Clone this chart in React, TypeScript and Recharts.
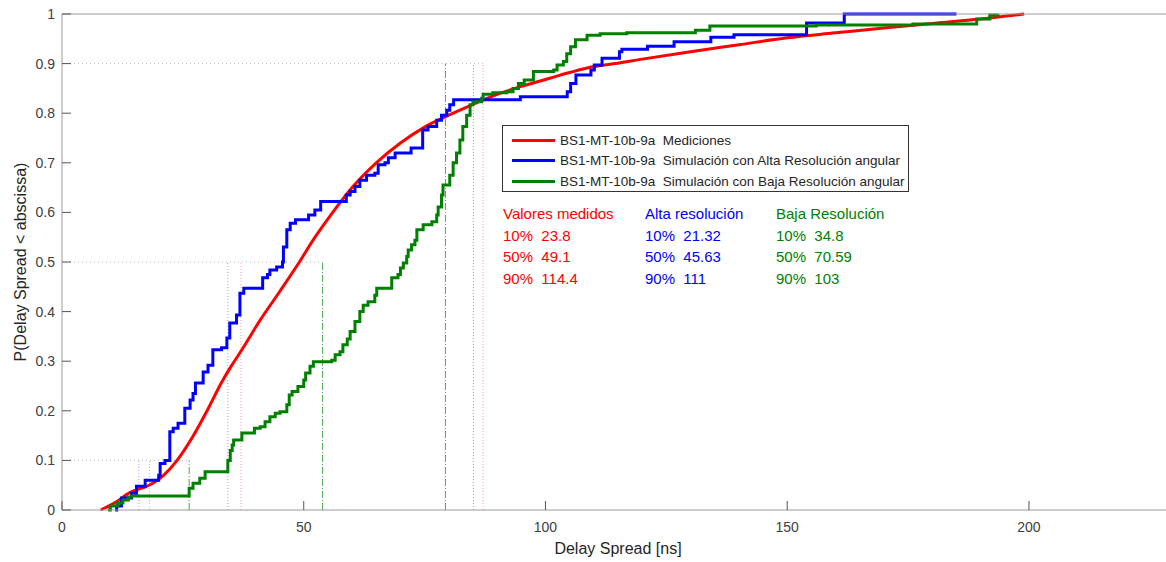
import { LineChart, Line, XAxis, YAxis, ReferenceLine, Legend } from "recharts";

// delay spread [ns] vs cumulative probability
const MEASURED: [number, number][] = [
  [8, 0], [11, 0.015], [14, 0.035], [18, 0.05], [21, 0.07], [23.8, 0.1],
  [27, 0.147], [30, 0.2], [33, 0.257], [35, 0.29], [37, 0.32], [41, 0.383],
  [45, 0.44], [49.1, 0.5], [52, 0.545], [56, 0.6], [60, 0.65], [65, 0.7],
  [70, 0.74], [75, 0.772], [80, 0.796], [85, 0.818], [90, 0.838], [95, 0.854],
  [100, 0.868], [105, 0.882], [110, 0.894], [114.4, 0.9], [120, 0.909],
  [130, 0.924], [140, 0.938], [150, 0.952], [160, 0.962], [170, 0.972],
  [180, 0.981], [190, 0.99], [199, 1],
];

const HIGH_RES: [number, number][] = [
  [11, 0], [11.3, 0.008], [12.3, 0.024], [14.4, 0.034], [15.4, 0.048],
  [17.2, 0.06], [20, 0.07], [20.3, 0.094], [21.3, 0.1], [22.3, 0.158],
  [23, 0.165], [24, 0.175], [25.4, 0.205], [26.5, 0.222], [27.1, 0.235],
  [27.6, 0.256], [29.2, 0.278], [30.2, 0.292], [31.2, 0.323], [33, 0.327],
  [34.1, 0.347], [34.7, 0.377], [36.1, 0.393], [36.8, 0.437], [37.6, 0.447],
  [41.5, 0.468], [42.5, 0.475], [43, 0.484], [44.4, 0.49], [45.6, 0.5],
  [45.8, 0.53], [46.5, 0.565], [47.2, 0.578], [48.3, 0.585], [51, 0.595],
  [52.3, 0.605], [53.5, 0.622], [58.8, 0.635], [59.6, 0.642], [60.6, 0.652],
  [61.6, 0.665], [63, 0.675], [64.7, 0.679], [65.4, 0.696], [66.8, 0.7],
  [67.5, 0.71], [68.9, 0.72], [72.2, 0.73], [74.6, 0.766], [75.7, 0.773],
  [77.5, 0.786], [78.5, 0.796], [79.6, 0.806], [80.2, 0.817], [81, 0.827],
  [94.8, 0.833], [104.5, 0.843], [105.2, 0.86], [106.3, 0.877], [109.4, 0.887],
  [110.1, 0.897], [111.7, 0.911], [115.3, 0.924], [115.8, 0.929], [121.1, 0.935],
  [126.6, 0.944], [134.2, 0.953], [139, 0.958], [154, 0.982], [161.8, 1],
  [185, 1],
];

const LOW_RES: [number, number][] = [
  [9.5, 0], [10, 0.008], [11.5, 0.014], [12.6, 0.02], [13.7, 0.026],
  [14.4, 0.028], [26.3, 0.044], [27.1, 0.054], [28.5, 0.064], [29.6, 0.077],
  [34.3, 0.1], [34.8, 0.12], [35.2, 0.131], [35.5, 0.141], [37.2, 0.155],
  [39.8, 0.165], [41, 0.168], [42, 0.178], [43, 0.188], [44.1, 0.195],
  [45.1, 0.198], [46.5, 0.212], [47, 0.232], [47.6, 0.239], [48.8, 0.249],
  [50, 0.262], [50.4, 0.276], [51.3, 0.29], [52, 0.299], [55.8, 0.302],
  [56.5, 0.313], [57.5, 0.319], [58.1, 0.333], [59, 0.345], [59.6, 0.36],
  [60.6, 0.38], [61.6, 0.4], [62.3, 0.413], [63.3, 0.42], [64.7, 0.433],
  [65.1, 0.447], [68.2, 0.468], [69.5, 0.475], [70, 0.488], [70.6, 0.498],
  [71.3, 0.511], [71.6, 0.524], [72.3, 0.535], [73, 0.544], [73.4, 0.565],
  [74.7, 0.575], [76.5, 0.581], [77.5, 0.595], [77.8, 0.611], [78.5, 0.635],
  [78.8, 0.655], [80.2, 0.675], [80.9, 0.7], [81.6, 0.72], [82.3, 0.746],
  [82.9, 0.773], [83.7, 0.796], [84.4, 0.817], [85, 0.823], [86.8, 0.83],
  [87.1, 0.838], [89.1, 0.841], [92, 0.843], [93.3, 0.85], [94.4, 0.86],
  [95.6, 0.867], [97.5, 0.884], [101.7, 0.887], [102.4, 0.897], [103.7, 0.904],
  [104.4, 0.92], [105.2, 0.934], [106.2, 0.948], [108.6, 0.957], [111.3, 0.96],
  [116.8, 0.962], [131, 0.967], [134, 0.976], [156, 0.978], [176, 0.98],
  [189.2, 0.99], [191.9, 0.998], [193.6, 1],
];

// percentile marker lines
const LEVELS = [0.1, 0.5, 0.9];
const RED_MARKS = [18.1, 37.0, 87.1];
const BLUE_MARKS = [15.9, 34.3, 85.1];
const GREEN_MARKS = [26.3, 53.9, 79.3];

const X_TICKS = [0, 50, 100, 150, 200];
const Y_TICKS = [0, 0.1, 0.2, 0.3, 0.4, 0.5, 0.6, 0.7, 0.8, 0.9, 1];

const STAT_ROWS = ["10%", "50%", "90%"];
const STAT_COLUMNS = [
  { title: "Valores medidos", values: ["23.8", "49.1", "114.4"], color: "#ff0000", left: 503 },
  { title: "Alta resolución", values: ["21.32", "45.63", "111"], color: "#0000ff", left: 645 },
  { title: "Baja Resolución", values: ["34.8", "70.59", "103"], color: "#008000", left: 776 },
];

const FONT = "'Liberation Sans', Arial, Helvetica, sans-serif";
const TEXT = "#262626";
const AXIS = "#9a9a9a";

const toPoints = (rows: [number, number][]) => rows.map(([x, y]) => ({ x, y }));

const fmt = (v: number) => String(Number(v.toFixed(1)));

function LegendBox({ payload }: any) {
  return (
    <div
      style={{
        width: 407,
        height: 67,
        border: "1px solid #333",
        background: "#fff",
        padding: "4px 0 0 9px",
        boxSizing: "border-box",
        fontFamily: FONT,
        fontSize: 13.5,
        color: TEXT,
      }}
    >
      {(payload ?? []).map((p: any) => (
        <div key={p.value} style={{ display: "flex", alignItems: "center", height: 20.5 }}>
          <span style={{ width: 43, height: 3, background: p.color, marginRight: 5 }} />
          <span style={{ whiteSpace: "pre" }}>{p.value}</span>
        </div>
      ))}
    </div>
  );
}

export default function App() {
  return (
    <div style={{ position: "absolute", left: 0, top: 0, width: 1166, height: 562, overflow: "hidden", background: "#fff" }}>
      <LineChart
        width={1176}
        height={562}
        margin={{ top: 0, right: 2, bottom: 0, left: 0 }}
        style={{ fontFamily: FONT }}
      >
        <XAxis
          xAxisId="top"
          orientation="top"
          type="number"
          dataKey="x"
          domain={[0, 230]}
          ticks={X_TICKS}
          interval={0}
          height={14}
          stroke={AXIS}
          tickLine={false}
          tickSize={0}
          tickMargin={0}
          tick={({ x, y }: any) => <line x1={x} x2={x} y1={y} y2={y + 9} stroke="#555" />}
        />
        <XAxis
          type="number"
          dataKey="x"
          domain={[0, 230]}
          ticks={X_TICKS}
          interval={0}
          height={52}
          stroke={AXIS}
          tickLine={false}
          tickSize={0}
          tickMargin={0}
          tick={({ x, y, payload }: any) => (
            <g>
              <line x1={x} x2={x} y1={y} y2={y - 9} stroke="#555" />
              <text x={x} y={y + 22} textAnchor="middle" fontSize={14} fill="#404040">
                {payload.value}
              </text>
            </g>
          )}
          label={{ value: "Delay Spread [ns]", position: "insideBottom", offset: 8, fontSize: 16, fill: TEXT }}
        />
        <YAxis
          type="number"
          domain={[0, 1]}
          ticks={Y_TICKS}
          interval={0}
          width={62}
          stroke={AXIS}
          tickLine={false}
          tickSize={0}
          tickMargin={0}
          tick={({ x, y, payload }: any) => (
            <g>
              <line x1={x} x2={x + 9} y1={y} y2={y} stroke="#555" />
              <text x={x - 7} y={y + 5} textAnchor="end" fontSize={14} fill="#404040">
                {fmt(payload.value)}
              </text>
            </g>
          )}
          label={{
            value: "P(Delay Spread < abscissa)",
            angle: -90,
            position: "insideLeft",
            offset: 20,
            fontSize: 16,
            fill: TEXT,
            style: { textAnchor: "middle" },
          }}
        />

        {LEVELS.map((lv, i) => (
          <ReferenceLine
            key={"h" + lv}
            segment={[{ x: 0, y: lv }, { x: Math.max(RED_MARKS[i], BLUE_MARKS[i], GREEN_MARKS[i]), y: lv }]}
            stroke="#b4b4b4"
            strokeDasharray="1 3"
          />
        ))}
        {LEVELS.map((lv, i) => (
          <ReferenceLine
            key={"b" + lv}
            segment={[{ x: BLUE_MARKS[i], y: 0 }, { x: BLUE_MARKS[i], y: lv }]}
            stroke="#a0a0ff"
            strokeDasharray="1 2"
          />
        ))}
        {LEVELS.map((lv, i) => (
          <ReferenceLine
            key={"r" + lv}
            segment={[{ x: RED_MARKS[i], y: 0 }, { x: RED_MARKS[i], y: lv }]}
            stroke="#ffa0a0"
            strokeDasharray="1 2"
          />
        ))}
        {LEVELS.map((lv, i) => (
          <ReferenceLine
            key={"g" + lv}
            segment={[{ x: GREEN_MARKS[i], y: 0 }, { x: GREEN_MARKS[i], y: lv }]}
            stroke="#4aa64a"
            strokeDasharray="7 2 1 2"
          />
        ))}

        <Line
          data={toPoints(MEASURED)}
          dataKey="y"
          name="BS1-MT-10b-9a  Mediciones"
          type="monotone"
          stroke="#ff0000"
          strokeWidth={3}
          dot={false}
          isAnimationActive={false}
        />
        <Line
          data={toPoints(HIGH_RES)}
          dataKey="y"
          name="BS1-MT-10b-9a  Simulación con Alta Resolución angular"
          type="stepAfter"
          stroke="#0000ff"
          strokeWidth={3}
          dot={false}
          isAnimationActive={false}
        />
        <Line
          data={toPoints(LOW_RES)}
          dataKey="y"
          name="BS1-MT-10b-9a  Simulación con Baja Resolución angular"
          type="stepAfter"
          stroke="#008000"
          strokeWidth={3}
          dot={false}
          isAnimationActive={false}
        />

        <Legend
          layout="vertical"
          align="center"
          verticalAlign="middle"
          content={<LegendBox />}
          wrapperStyle={{ left: 502, top: 125, width: 407, height: 67 }}
        />
      </LineChart>

      {STAT_COLUMNS.map((col) => (
        <div
          key={col.title}
          style={{
            position: "absolute",
            left: col.left,
            top: 203,
            color: col.color,
            fontFamily: FONT,
            fontSize: 15,
            lineHeight: "21.7px",
            whiteSpace: "pre",
          }}
        >
          <div>{col.title}</div>
          {col.values.map((v, i) => (
            <div key={v}>{STAT_ROWS[i] + "  " + v}</div>
          ))}
        </div>
      ))}
    </div>
  );
}
